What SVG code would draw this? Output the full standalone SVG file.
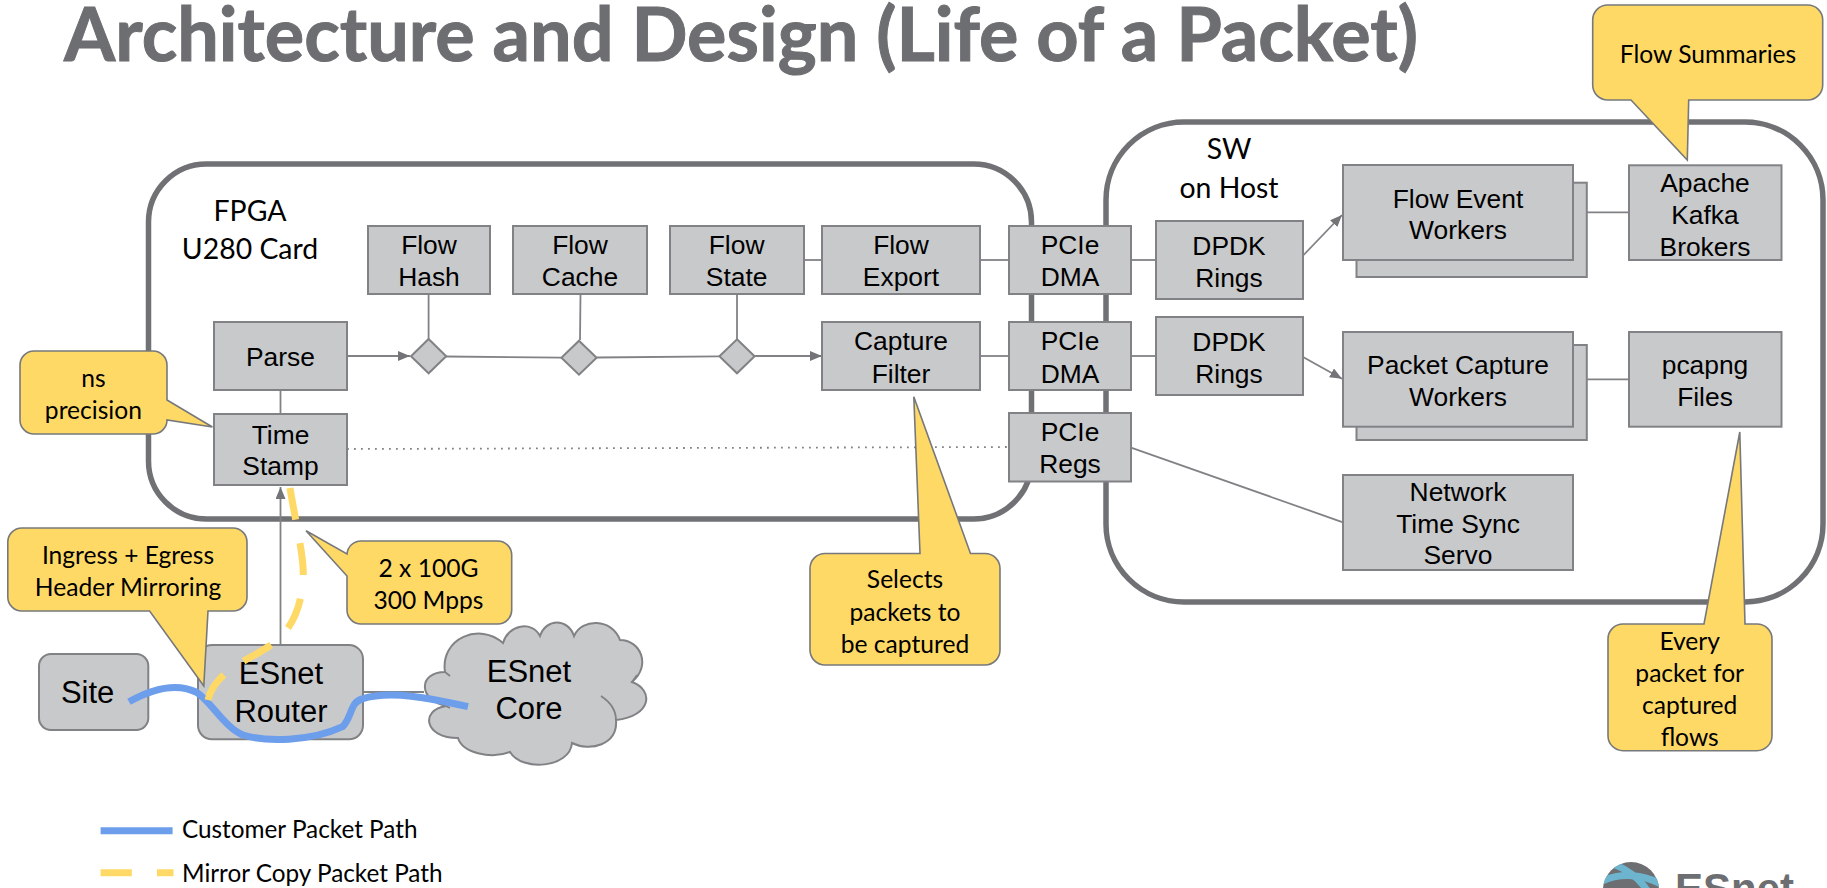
<svg xmlns="http://www.w3.org/2000/svg" width="1827" height="888" viewBox="0 0 1827 888">
<defs>
<marker id="arrow" markerUnits="userSpaceOnUse" markerWidth="14" markerHeight="12" refX="12" refY="5" orient="auto"><path d="M0,0 L12,5 L0,10 Z" fill="#737477"/></marker>
<clipPath id="globe"><circle cx="1631" cy="890" r="28"/></clipPath>
</defs>
<style>
.cont{fill:#fff;stroke:#707174;stroke-width:5.5}
.box{fill:#c8c9cb;stroke:#808285;stroke-width:2}
.call{fill:#ffd966;stroke:#77787b;stroke-width:1.6;stroke-linejoin:miter}
.conn{fill:none;stroke:#808285;stroke-width:1.8}
.arr{marker-end:url(#arrow)}
.dot{fill:none;stroke:#808285;stroke-width:1.8;stroke-dasharray:1.8 5.2}
.t{font-family:"Liberation Sans",Arial,sans-serif;font-size:26.4px;text-anchor:middle;fill:#000;transform:translateY(1px)}
.big{font-size:31px;transform:none}
.c{font-family:Lato,"Open Sans",sans-serif;font-size:24.6px;text-anchor:middle;fill:#000;transform:translateY(1px)}
.lab{font-family:Lato,"Open Sans",sans-serif;font-size:28.4px;text-anchor:middle;fill:#000;transform:translateY(1px)}
.leg{font-family:Lato,"Open Sans",sans-serif;font-size:24.3px;fill:#000}
.blue{fill:none;stroke:#6d9eeb;stroke-width:7}
.yel{fill:none;stroke:#ffd966;stroke-width:7}
</style>
<rect width="1827" height="888" fill="#fff"/>
<text id="title" x="64" y="61" font-family="Lato,'Open Sans',sans-serif" font-weight="700" font-size="73.800" fill="#6d6e71" stroke="#6d6e71" stroke-width="1">Architecture and Design (Life of a Packet)</text>

<g id="containers">
<g id="fpga"><rect class="cont" x="148.5" y="164" width="883" height="355" rx="58"/><text class="lab" x="250" y="220">FPGA</text><text class="lab" x="250" y="258">U280 Card</text></g>
<g id="sw"><rect class="cont" x="1106" y="122" width="717" height="480" rx="78"/><text class="lab" x="1229" y="158">SW</text><text class="lab" x="1229" y="197">on Host</text></g>
</g>

<g id="connectors">
<path class="conn arr" d="M347,356 H410"/>
<path class="conn" d="M446,356.5 L561,357.7"/>
<path class="conn" d="M597,357.5 L719,356.3"/>
<path class="conn arr" d="M755,356 H822"/>
<path class="conn" d="M428.6,294 V339"/>
<path class="conn" d="M580.5,294 L580,340"/>
<path class="conn" d="M737,294 V339"/>
<path class="conn" d="M804,260 H822"/>
<path class="conn" d="M980,260 H1009"/>
<path class="conn" d="M1131,260 H1156"/>
<path class="conn arr" d="M1302.6,256 L1342,215"/>
<path class="conn" d="M980,356 H1009"/>
<path class="conn" d="M1131,356 H1156"/>
<path class="conn arr" d="M1302.6,356.7 L1342,378.7"/>
<path class="conn" d="M1573,212.3 H1629"/>
<path class="conn" d="M1573,379.3 H1629"/>
<path class="conn" d="M280.5,390 V414"/>
<path class="dot" d="M347,449 L1009,447"/>
<path class="conn" d="M1131,447.7 L1343,522.3"/>
<path class="conn arr" d="M280.5,645 V487"/>
<path class="conn" d="M363,692 H424"/>
</g>

<g id="flow-hash"><rect class="box" x="368" y="226" width="122" height="68"/><text class="t" x="429" y="253">Flow</text><text class="t" x="429" y="285">Hash</text></g>
<g id="flow-cache"><rect class="box" x="513" y="226" width="134" height="68"/><text class="t" x="580" y="253">Flow</text><text class="t" x="580" y="285">Cache</text></g>
<g id="flow-state"><rect class="box" x="670" y="226" width="134" height="68"/><text class="t" x="736.6" y="253">Flow</text><text class="t" x="736.6" y="285">State</text></g>
<g id="flow-export"><rect class="box" x="822" y="226" width="158" height="68"/><text class="t" x="901" y="253">Flow</text><text class="t" x="901" y="285">Export</text></g>
<g id="pcie-dma-1"><rect class="box" x="1009" y="226" width="122" height="68"/><text class="t" x="1070" y="253">PCIe</text><text class="t" x="1070" y="285">DMA</text></g>
<g id="parse"><rect class="box" x="214" y="322" width="133" height="68"/><text class="t" x="280.5" y="365">Parse</text></g>
<g id="capture-filter"><rect class="box" x="822" y="322" width="158" height="68"/><text class="t" x="901" y="349">Capture</text><text class="t" x="901" y="381.500">Filter</text></g>
<g id="pcie-dma-2"><rect class="box" x="1009" y="322" width="122" height="68"/><text class="t" x="1070" y="349">PCIe</text><text class="t" x="1070" y="381.500">DMA</text></g>
<g id="time-stamp"><rect class="box" x="214" y="414" width="133" height="71"/><text class="t" x="280.5" y="442.700">Time</text><text class="t" x="280.5" y="474.300">Stamp</text></g>
<g id="pcie-regs"><rect class="box" x="1009" y="413" width="122" height="68.500"/><text class="t" x="1070" y="440">PCIe</text><text class="t" x="1070" y="471.700">Regs</text></g>
<g id="diamond-1"><path class="box" d="M428.600,339 L446.200,356.300 L428.600,373.300 L411,356.300 Z"/></g>
<g id="diamond-2"><path class="box" d="M579,340.700 L596.600,357.700 L579,374.700 L561.400,357.700 Z"/></g>
<g id="diamond-3"><path class="box" d="M737,339.300 L754.600,356.300 L737,373.300 L719.400,356.300 Z"/></g>
<g id="dpdk-1"><rect class="box" x="1156" y="221" width="147" height="78"/><text class="t" x="1229" y="254">DPDK</text><text class="t" x="1229" y="285.700">Rings</text></g>
<g id="dpdk-2"><rect class="box" x="1156" y="317" width="147" height="78"/><text class="t" x="1229" y="350">DPDK</text><text class="t" x="1229" y="381.700">Rings</text></g>
<g id="flow-event-workers"><rect class="box" x="1356.500" y="182.700" width="230.300" height="94.300"/><rect class="box" x="1343" y="165" width="230" height="95"/><text class="t" x="1458" y="206.700">Flow Event</text><text class="t" x="1458" y="238.300">Workers</text></g>
<g id="packet-capture-workers"><rect class="box" x="1356.500" y="345" width="230.300" height="95"/><rect class="box" x="1343" y="332" width="230" height="94.700"/><text class="t" x="1458" y="372.700">Packet Capture</text><text class="t" x="1458" y="405">Workers</text></g>
<g id="kafka"><rect class="box" x="1629" y="165.300" width="152.500" height="94.700"/><text class="t" x="1705" y="190.700">Apache</text><text class="t" x="1705" y="222.700">Kafka</text><text class="t" x="1705" y="255">Brokers</text></g>
<g id="pcapng"><rect class="box" x="1629" y="332" width="152.500" height="94.700"/><text class="t" x="1705" y="372.700">pcapng</text><text class="t" x="1705" y="405">Files</text></g>
<g id="time-sync"><rect class="box" x="1343" y="475" width="230" height="95"/><text class="t" x="1458" y="500">Network</text><text class="t" x="1458" y="531.700">Time Sync</text><text class="t" x="1458" y="563">Servo</text></g>

<g id="site"><rect class="box" x="39" y="654" width="109.300" height="76" rx="12"/><text class="t big" x="87.600" y="703">Site</text></g>
<g id="router"><rect class="box" x="198" y="645" width="165" height="94.300" rx="14"/><text class="t big" x="281" y="684">ESnet</text><text class="t big" x="281" y="722.300">Router</text></g>
<g id="core"><path class="box" d="M445,672 C440,638 480,622 503,643 C508,625 532,620 540,636 C546,618 568,618 574,636 C582,618 612,618 620,640 C640,640 652,665 632,682 C654,690 652,716 616,720 C618,745 590,752 572,743 C570,768 522,772 510,752 C490,760 462,752 458,738 C424,738 420,710 446,706 C418,700 418,672 445,672 Z"/><path class="conn" d="M616,720 C616,710 610,702 601,696 M632,682 L637,675 M446,706 L450,708 M445,672 L450,676"/><text class="t big" x="529" y="681.700">ESnet</text><text class="t big" x="529" y="719.300">Core</text></g>

<g id="paths">
<path class="blue" d="M129,701.700 C150,690 175,682 196,692 C210,700 225,728 243,735 C265,742 310,742 342.600,726.700 C352,718 350,702 362,699 C390,690 430,698 468,706.700"/>
<path class="yel" stroke-dasharray="32 24" d="M290,488 C296,525 305,560 303,580 C301,610 290,632 271,645 C250,660 215,670 208,700"/>
</g>

<g id="callout-flow-summaries"><path class="call" d="M1607.700,5 H1807.700 A15,15 0 0 1 1822.700,20 V85 A15,15 0 0 1 1807.700,100 H1688.700 L1687.300,160 L1631,100 H1607.700 A15,15 0 0 1 1592.700,85 V20 A15,15 0 0 1 1607.700,5 Z"/><text class="c" x="1708" y="61.700">Flow Summaries</text></g>
<g id="callout-ns"><path class="call" d="M34,351 H153 A14,14 0 0 1 167,365 V400 L212.400,427 L167,420 A14,14 0 0 1 153,434 H34 A14,14 0 0 1 20,420 V365 A14,14 0 0 1 34,351 Z"/><text class="c" x="93.400" y="386">ns</text><text class="c" x="93.400" y="417.700">precision</text></g>
<g id="callout-ingress"><path class="call" d="M21.800,528 H233 A14,14 0 0 1 247,542 V597 A14,14 0 0 1 233,611 H208 L203.800,686 L149.600,611 H21.800 A14,14 0 0 1 7.800,597 V542 A14,14 0 0 1 21.800,528 Z"/><text class="c" x="128" y="562.700">Ingress + Egress</text><text class="c" x="128" y="595">Header Mirroring</text></g>
<g id="callout-100g"><path class="call" d="M361,541 H497.700 A14,14 0 0 1 511.700,555 V610 A14,14 0 0 1 497.700,624 H361 A14,14 0 0 1 347,610 V576 L306,530.700 L347,554 A14,14 0 0 1 361,541 Z"/><text class="c" x="428.500" y="576">2 x 100G</text><text class="c" x="428.500" y="607.700">300 Mpps</text></g>
<g id="callout-selects"><path class="call" d="M825,553.500 H920 L913.800,396.700 L970.500,553.500 H985 A15,15 0 0 1 1000,568.500 V650 A15,15 0 0 1 985,665 H825 A15,15 0 0 1 810,650 V568.500 A15,15 0 0 1 825,553.500 Z"/><text class="c" x="905" y="587">Selects</text><text class="c" x="905" y="620">packets to</text><text class="c" x="905" y="652">be captured</text></g>
<g id="callout-every"><path class="call" d="M1623,624 H1704 L1739.800,432 L1745,624 H1757 A15,15 0 0 1 1772,639 V735.700 A15,15 0 0 1 1757,750.700 H1623 A15,15 0 0 1 1608,735.700 V639 A15,15 0 0 1 1623,624 Z"/><text class="c" x="1689.700" y="649.300">Every</text><text class="c" x="1689.700" y="681">packet for</text><text class="c" x="1689.700" y="712.700">captured</text><text class="c" x="1689.700" y="745">flows</text></g>

<g id="legend">
<path class="blue" d="M100.600,830.700 H172.600"/>
<path class="yel" d="M100.600,872.700 H131.800 M157,872.700 H173.500"/>
<text class="leg" x="182" y="838">Customer Packet Path</text>
<text class="leg" x="182" y="881.700">Mirror Copy Packet Path</text>
</g>

<g id="logo">
<circle cx="1631" cy="890" r="28" fill="#6d6e71"/>
<g clip-path="url(#globe)" fill="none" stroke="#6db5cf" stroke-width="7"><path d="M1600,882 C1620,872 1645,874 1664,886"/><path d="M1612,864 C1625,868 1640,878 1648,892"/></g>
<text x="1675" y="903" font-family="'Liberation Sans',sans-serif" font-weight="700" font-size="42" fill="#6d6e71">ESnet</text>
</g>
</svg>
